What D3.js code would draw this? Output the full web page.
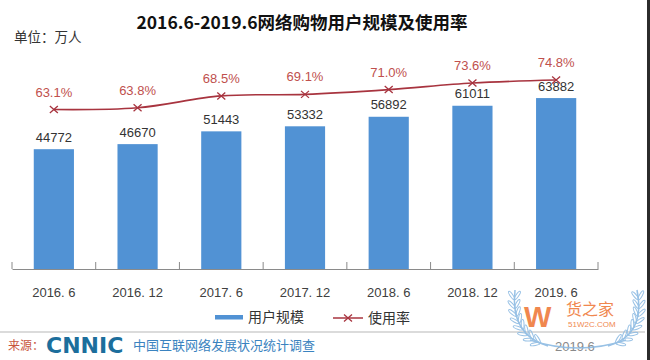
<!DOCTYPE html>
<html><head><meta charset="utf-8">
<script src="https://cdn.jsdelivr.net/npm/d3@7"></script>
<style>
html,body{margin:0;padding:0;background:#fff;}
svg{display:block;}
</style></head>
<body>
<svg id="c" width="650" height="360"></svg>
<script>
const categories = ["2016. 6","2016. 12","2017. 6","2017. 12","2018. 6","2018. 12","2019. 6"];
const users = [44772, 46670, 51443, 53332, 56892, 61011, 63882];
const rates = [63.1, 63.8, 68.5, 69.1, 71.0, 73.6, 74.8];
const rateLabels = ["63.1%","63.8%","68.5%","69.1%","71.0%","73.6%","74.8%"];
const titleText = "2016.6-2019.6网络购物用户规模及使用率";
const unitText = "单位：万人";
const legendNames = ["用户规模","使用率"];

const svg = d3.select("#c");
const CJK = "'Noto Sans CJK SC','Noto Sans',sans-serif";
const LAT = "'Liberation Sans',Arial,sans-serif";
const blue = "#5192d4", red = "#a8343f", redText = "#c0504d";

const x0 = 12, x1 = 598, yBase = 269;
const x = d3.scaleBand().domain(categories).range([x0, x1]).paddingInner(0.52).paddingOuter(0.26);
const yU = d3.scaleLinear().domain([0, 70000]).range([yBase, yBase - 187.3]);
const yR = d3.scaleLinear().domain([0, 100]).range([yBase, yBase - 252.7]);
const bw = x.bandwidth(), step = x.step();

// right edge
svg.append("rect").attr("x", 647).attr("y", 0).attr("width", 3).attr("height", 360).attr("fill", "#2b2b2b");

// title
svg.append("text").attr("x", 302).attr("y", 29).attr("text-anchor", "middle")
  .attr("font-family", CJK).attr("font-weight", "bold").attr("font-size", 17.5).attr("fill", "#111").text(titleText);
svg.append("text").attr("x", 14).attr("y", 42).attr("font-family", CJK).attr("font-size", 13.5)
  .attr("fill", "#333").text(unitText);

// bars
svg.append("g").selectAll("rect").data(users).join("rect")
  .attr("x", (d, i) => x(categories[i])).attr("width", bw)
  .attr("y", d => yU(d)).attr("height", d => yBase - yU(d)).attr("fill", blue);

// bar labels
svg.append("g").selectAll("text").data(users).join("text")
  .attr("x", (d, i) => x(categories[i]) + bw / 2).attr("y", d => yU(d) - 7.5)
  .attr("text-anchor", "middle").attr("font-family", LAT).attr("font-size", 13).attr("fill", "#333")
  .text(d => d);

// axis
const ax = d3.axisBottom(x).tickSizeInner(0).tickSizeOuter(0).tickPadding(18.5);
const g = svg.append("g").attr("transform", `translate(0,${yBase})`).call(ax);
g.select(".domain").attr("stroke", "#8a8a8a").attr("stroke-width", 1);
g.selectAll("text").attr("font-family", LAT).attr("font-size", 13).attr("fill", "#404040");
const edges = categories.map(c => x(c) + bw / 2 - step / 2).concat([x(categories[categories.length - 1]) + bw / 2 + step / 2]);
svg.append("g").selectAll("line").data(edges).join("line")
  .attr("x1", d => d).attr("x2", d => d).attr("y1", yBase).attr("y2", yBase - 7)
  .attr("stroke", "#8a8a8a").attr("stroke-width", 1);

// rate line
const pts = rates.map((r, i) => [x(categories[i]) + bw / 2, yR(r)]);
svg.append("path").datum(pts).attr("d", d3.line().curve(d3.curveCatmullRom.alpha(0.5)))
  .attr("fill", "none").attr("stroke", red).attr("stroke-width", 1.6);
const xm = "M-4,-3.5L4,3.5M-4,3.5L4,-3.5";
svg.append("g").selectAll("path").data(pts).join("path")
  .attr("transform", d => `translate(${d[0]},${d[1]})`).attr("d", xm)
  .attr("stroke", red).attr("stroke-width", 1.3).attr("fill", "none");
svg.append("g").selectAll("text").data(rates).join("text")
  .attr("x", (d, i) => x(categories[i]) + bw / 2).attr("y", d => yR(d) - 13)
  .attr("text-anchor", "middle").attr("font-family", LAT).attr("font-size", 13).attr("fill", redText)
  .text((d, i) => rateLabels[i]);

// legend
svg.append("rect").attr("x", 215).attr("y", 315).attr("width", 28).attr("height", 4.5).attr("fill", blue);
svg.append("text").attr("x", 248).attr("y", 322).attr("font-family", CJK).attr("font-size", 14)
  .attr("fill", "#333").text(legendNames[0]);
svg.append("line").attr("x1", 333).attr("x2", 363).attr("y1", 318).attr("y2", 318).attr("stroke", red).attr("stroke-width", 1.5);
svg.append("path").attr("transform", "translate(348,318)").attr("d", xm).attr("stroke", red).attr("stroke-width", 1.3);
svg.append("text").attr("x", 368).attr("y", 323).attr("font-family", CJK).attr("font-size", 14)
  .attr("fill", "#333").text(legendNames[1]);

// footer
svg.append("line").attr("x1", 0).attr("x2", 645).attr("y1", 332).attr("y2", 332).attr("stroke", "#cfcfcf").attr("stroke-width", 1.5);
svg.append("text").attr("x", 8).attr("y", 350).attr("font-family", CJK).attr("font-size", 12).attr("fill", "#c8553d").text("来源：");
svg.append("text").attr("x", 46).attr("y", 353).attr("font-family", "'DejaVu Sans',sans-serif").attr("font-weight", "bold")
  .attr("font-size", 22).attr("fill", "#1c6e9c").text("CNNIC");
svg.append("text").attr("x", 133).attr("y", 350).attr("font-family", CJK).attr("font-size", 13)
  .attr("fill", "#3a83c0").text("中国互联网络发展状况统计调查");
svg.append("text").attr("x", 555).attr("y", 351).attr("font-family", LAT).attr("font-size", 13)
  .attr("fill", "#8a8a8a").text("2019.6");

// watermark laurel
const wm = svg.append("g").attr("opacity", 0.9);
function branch(p0, c, p1, side) {
  wm.append("path").attr("d", `M${p0[0]},${p0[1]}Q${c[0]},${c[1]} ${p1[0]},${p1[1]}`)
    .attr("fill", "none").attr("stroke", "#8dbbe3").attr("stroke-width", 1.5);
  for (let k = 1; k < 9; k++) {
    const t = k / 9, u = 1 - t;
    const px = u * u * p0[0] + 2 * u * t * c[0] + t * t * p1[0];
    const py = u * u * p0[1] + 2 * u * t * c[1] + t * t * p1[1];
    const dx = 2 * u * (c[0] - p0[0]) + 2 * t * (p1[0] - c[0]);
    const dy = 2 * u * (c[1] - p0[1]) + 2 * t * (p1[1] - c[1]);
    const a = Math.atan2(dy, dx) * 180 / Math.PI;
    [-35, 35].forEach(o => {
      wm.append("ellipse").attr("cx", 0).attr("cy", 0).attr("rx", 5).attr("ry", 1.4)
        .attr("transform", `translate(${px},${py}) rotate(${a + o * side}) translate(5,0)`)
        .attr("fill", "none").attr("stroke", "#8dbbe3").attr("stroke-width", 1);
    });
  }
}
branch([548, 346], [510, 335], [515, 290], 1);
branch([608, 346], [646, 335], [637, 290], -1);
wm.append("path").attr("d", "M530,340Q578,356 626,340").attr("fill", "none").attr("stroke", "#8dbbe3").attr("stroke-width", 1.5);
wm.append("text").attr("x", 524).attr("y", 327).attr("font-family", LAT).attr("font-weight", "bold")
  .attr("font-size", 29).attr("fill", "#ef7b3c").text("W");
wm.append("text").attr("x", 566).attr("y", 315).attr("font-family", CJK).attr("font-size", 16)
  .attr("fill", "#ef7b3c").text("货之家");
wm.append("text").attr("x", 568).attr("y", 327).attr("font-family", LAT).attr("font-size", 8)
  .attr("fill", "#ef7b3c").text("51W2C.COM");
</script>
</body></html>
